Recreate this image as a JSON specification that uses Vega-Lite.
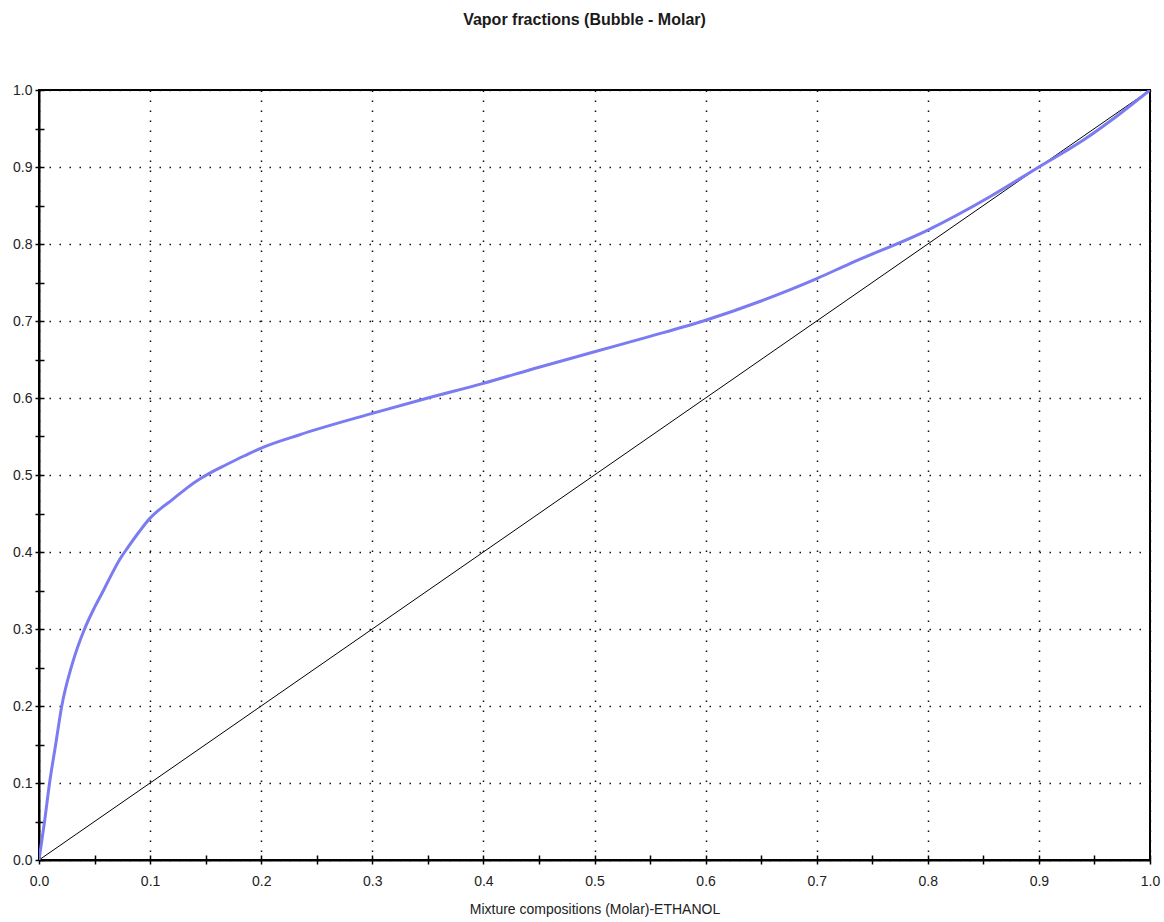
{
  "$schema": "https://vega.github.io/schema/vega-lite/v6.json",
  "width": 1111,
  "height": 770,
  "autosize": {"type": "none"},
  "padding": {"left": 39, "top": 90, "right": 14, "bottom": 62},
  "background": "white",
  "title": {
    "text": "Vapor fractions (Bubble - Molar)",
    "font": "Liberation Sans",
    "fontSize": 16,
    "fontWeight": "bold",
    "color": "#1a1a1a",
    "anchor": "middle",
    "frame": "group",
    "baseline": "alphabetic",
    "offset": 42,
    "dx": -10
  },
  "config": {
    "view": {"stroke": "#000000", "strokeWidth": 2},
    "axis": {
      "labelFont": "Liberation Sans",
      "labelFontSize": 14,
      "labelColor": "#222222",
      "titleFont": "Liberation Sans",
      "titleFontSize": 14,
      "titleFontWeight": "normal",
      "titleColor": "#222222",
      "domainColor": "#000000",
      "domainWidth": 2,
      "tickColor": "#000000",
      "tickWidth": 1.5,
      "gridColor": "#111111",
      "gridWidth": 1.5,
      "gridDash": [1.5, 8.5]
    }
  },
  "datasets": {
    "curve": [
      {"x": 0, "y": 0},
      {"x": 0.005, "y": 0.05},
      {"x": 0.0095, "y": 0.1},
      {"x": 0.015, "y": 0.15},
      {"x": 0.0205, "y": 0.2},
      {"x": 0.03, "y": 0.255},
      {"x": 0.041, "y": 0.3},
      {"x": 0.05, "y": 0.328},
      {"x": 0.058, "y": 0.35},
      {"x": 0.065, "y": 0.37},
      {"x": 0.0725, "y": 0.39},
      {"x": 0.08, "y": 0.406},
      {"x": 0.09, "y": 0.426},
      {"x": 0.1, "y": 0.444},
      {"x": 0.11, "y": 0.457},
      {"x": 0.12, "y": 0.468},
      {"x": 0.133, "y": 0.483},
      {"x": 0.145, "y": 0.495},
      {"x": 0.157, "y": 0.505},
      {"x": 0.168, "y": 0.513},
      {"x": 0.185, "y": 0.525},
      {"x": 0.2, "y": 0.535},
      {"x": 0.234, "y": 0.552},
      {"x": 0.3, "y": 0.58},
      {"x": 0.35, "y": 0.6},
      {"x": 0.4, "y": 0.619},
      {"x": 0.45, "y": 0.64},
      {"x": 0.5, "y": 0.66},
      {"x": 0.55, "y": 0.68},
      {"x": 0.6, "y": 0.701},
      {"x": 0.65, "y": 0.726},
      {"x": 0.7, "y": 0.755},
      {"x": 0.729, "y": 0.774},
      {"x": 0.8, "y": 0.818},
      {"x": 0.8555, "y": 0.861},
      {"x": 0.9, "y": 0.9},
      {"x": 0.939, "y": 0.934},
      {"x": 0.97, "y": 0.966},
      {"x": 1, "y": 1}
    ],
    "diagonal": [
      {"x": 0, "y": 0},
      {"x": 1, "y": 1}
    ]
  },
  "layer": [
    {
      "data": {"name": "diagonal"},
      "mark": {"type": "line", "color": "#000000", "strokeWidth": 1, "clip": true},
      "encoding": {
        "x": {
          "field": "x", "type": "quantitative",
          "scale": {"domain": [0, 1], "nice": false, "zero": false},
          "axis": {
            "orient": "bottom",
            "title": "Mixture compositions (Molar)-ETHANOL",
            "titlePadding": 14,
            "values": [0, 0.05, 0.1, 0.15, 0.2, 0.25, 0.3, 0.35, 0.4, 0.45, 0.5, 0.55, 0.6, 0.65, 0.7, 0.75, 0.8, 0.85, 0.9, 0.95, 1],
            "labelExpr": "(round(datum.value*100) % 10 == 0) ? format(datum.value, '.1f') : ''",
            "tickSize": 4,
            "labelPadding": 10,
            "labelFlush": false,
            "labelOverlap": false,
            "grid": true,
            "gridOpacity": {"condition": {"test": "round(datum.value*100) % 10 == 0", "value": 1}, "value": 0}
          }
        },
        "y": {
          "field": "y", "type": "quantitative",
          "scale": {"domain": [0, 1], "nice": false, "zero": false},
          "axis": {
            "orient": "left",
            "title": null,
            "values": [0, 0.05, 0.1, 0.15, 0.2, 0.25, 0.3, 0.35, 0.4, 0.45, 0.5, 0.55, 0.6, 0.65, 0.7, 0.75, 0.8, 0.85, 0.9, 0.95, 1],
            "labelExpr": "(round(datum.value*100) % 10 == 0) ? format(datum.value, '.1f') : ''",
            "tickSize": 4,
            "labelPadding": 3,
            "labelFlush": false,
            "labelOverlap": false,
            "grid": true,
            "gridOpacity": {"condition": {"test": "round(datum.value*100) % 10 == 0", "value": 1}, "value": 0}
          }
        }
      }
    },
    {
      "data": {"name": "curve"},
      "mark": {"type": "line", "color": "#7b7bf2", "strokeWidth": 3, "clip": true, "interpolate": "monotone"},
      "encoding": {
        "x": {
          "field": "x", "type": "quantitative",
          "scale": {"domain": [0, 1], "nice": false, "zero": false},
          "axis": {
            "orient": "bottom",
            "title": null,
            "values": [0, 0.05, 0.1, 0.15, 0.2, 0.25, 0.3, 0.35, 0.4, 0.45, 0.5, 0.55, 0.6, 0.65, 0.7, 0.75, 0.8, 0.85, 0.9, 0.95, 1],
            "labels": false,
            "domain": false,
            "grid": false,
            "tickSize": -5
          }
        },
        "y": {
          "field": "y", "type": "quantitative",
          "scale": {"domain": [0, 1], "nice": false, "zero": false},
          "axis": {
            "orient": "left",
            "title": null,
            "values": [0, 0.05, 0.1, 0.15, 0.2, 0.25, 0.3, 0.35, 0.4, 0.45, 0.5, 0.55, 0.6, 0.65, 0.7, 0.75, 0.8, 0.85, 0.9, 0.95, 1],
            "labels": false,
            "domain": false,
            "grid": false,
            "tickSize": -5
          }
        }
      }
    }
  ],
  "resolve": {"axis": {"x": "independent", "y": "independent"}}
}
